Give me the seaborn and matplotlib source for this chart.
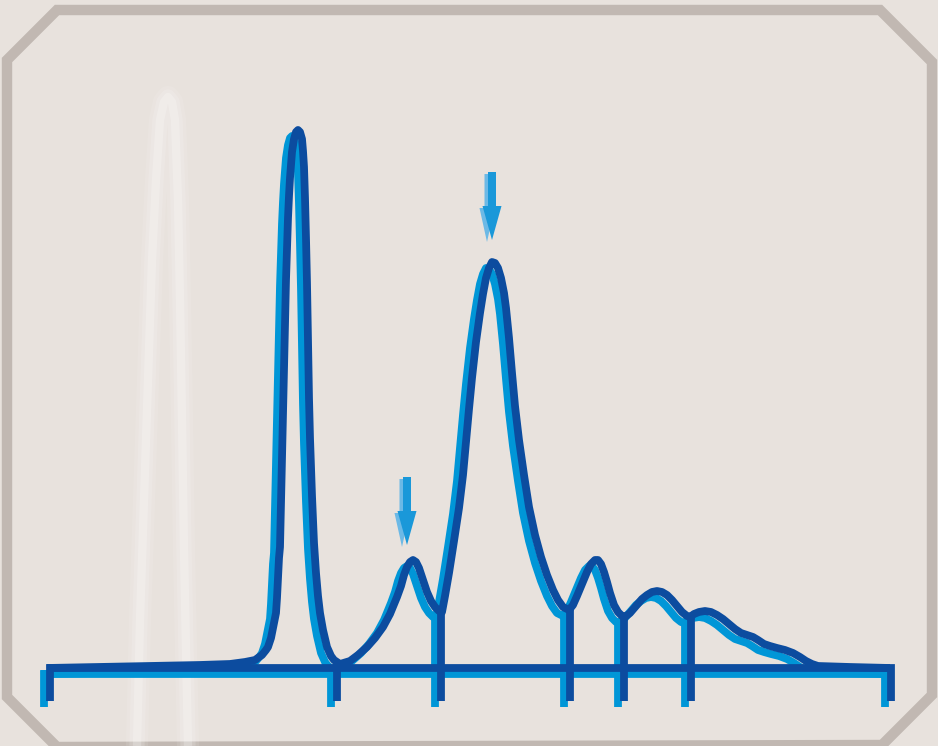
import matplotlib
matplotlib.use("Agg")
import matplotlib.pyplot as plt
from matplotlib.patches import Polygon
from matplotlib.transforms import offset_copy
import seaborn as sns

# Chromatogram trace (time units ~ px, signal above baseline)
time = [47, 100, 150, 200, 230, 245, 255, 262, 266, 268, 271, 273, 275, 276, 277,
        278, 279, 280, 281, 282, 283, 284, 285, 286, 287, 288, 289, 290, 291, 292,
        294, 296, 298, 300, 302, 303, 304, 305, 306, 307, 308, 309, 310, 311, 312,
        313, 314, 316, 318, 320, 323, 327, 331, 334, 340,
        350, 358, 367, 375, 383, 390, 397, 401, 404, 407, 410, 413, 416, 419, 423,
        427, 431, 435, 439, 442,
        445, 449, 454, 459, 463, 466, 469, 472, 476, 480, 483, 486, 489, 492, 495,
        498, 501, 504, 506, 509, 512, 515, 519, 524, 529, 535, 541, 547, 553, 558,
        563, 569,
        573, 577, 582, 587, 591, 595, 598, 601, 604, 607, 610, 614, 618, 622, 625,
        630, 636, 642, 647, 652, 657, 662, 667, 672, 677, 682, 687, 690,
        694, 699, 705, 711, 717, 723, 729, 735, 741, 747, 753, 758, 764, 770, 777,
        785, 793, 800, 806, 812, 818, 850, 890]
signal = [0, 1, 2, 3, 4, 6, 8, 13, 18, 21, 30, 40, 50, 55, 70,
          90, 110, 121, 165, 210, 255, 300, 345, 388, 420, 450, 472, 490, 503, 516,
          529, 536, 538, 536, 529, 517, 501, 470, 430, 385, 330, 270, 230, 200, 172,
          148, 125, 95, 72, 55, 38, 21, 12, 8, 4,
          7, 13, 21, 30, 41, 54, 71, 82, 93, 101, 106, 108, 106, 100, 88,
          76, 67, 61, 57, 56,
          72, 95, 127, 160, 193, 226, 259, 290, 326, 355, 374, 390, 400, 406, 405,
          400, 390, 375, 360, 330, 295, 262, 228, 193, 161, 133, 111, 93, 78, 68,
          61, 58,
          63, 72, 84, 96, 104, 108, 108, 104, 96, 86, 75, 63, 56, 52, 51,
          55, 62, 69, 73, 76, 77, 76, 73, 68, 62, 56, 52, 51,
          54, 56, 57, 56, 53, 49, 44, 39, 35, 33, 31, 28, 24, 22, 20,
          18, 15, 11, 7, 4, 2, 1, 0]

# peak cut positions (drop lines) and the signal where they start
cut_times = [337, 441, 570, 624, 691]
cut_tops = [4, 56, 58, 51, 51]
base_start, base_end = 50, 891

# marked peaks (arrows)
arrow_x = [407, 492]
arrow_tip = [123, 428]

# faint ghost peak in the background
ghost_t = [137, 140, 144, 148, 152, 156, 160, 164, 168, 172, 175, 178, 180, 182, 184, 186, 188]
ghost_s = [-78, 48, 168, 288, 408, 488, 548, 566, 571, 566, 548, 468, 368, 248, 118, 18, -78]

DARK = "#0C4C9F"
LIGHT = "#0096D7"
ARROW = "#1A98D9"
ARROW_SHADOW = "#6CB9E6"
BG = "#E8E2DD"
FRAME = "#C1B8B2"

sns.set_style("white")
fig = plt.figure(figsize=(9.38, 7.46), dpi=100, facecolor=BG)
ax = fig.add_axes([0, 0, 1, 1], facecolor=BG)
ax.set_axis_off()

# frame with cut corners
frame = [(57, 658), (880, 658), (932, 606), (932, -27), (882, -77), (57, -79),
         (7, -29), (7, 608)]
ax.add_patch(Polygon(frame, closed=True, fill=False, edgecolor=FRAME, linewidth=7.5,
                     joinstyle="miter"))

# ghost peak, blurred by stacking
for lw, a in [(16, 0.09), (11, 0.14), (6, 0.22)]:
    ax.plot(ghost_t, ghost_s, color="white", linewidth=lw, alpha=a,
            solid_joinstyle="round", solid_capstyle="butt")

shadow = offset_copy(ax.transData, fig=fig, x=-6, y=-6, units="dots")
lw = 5.6

for color, tr, z in [(LIGHT, shadow, 3), (DARK, ax.transData, 4)]:
    ax.plot([base_start, base_start, base_end, base_end], [-33, 0, 0, -33],
            color=color, linewidth=lw, transform=tr, zorder=z,
            solid_joinstyle="miter", solid_capstyle="butt")
    for t, top in zip(cut_times, cut_tops):
        ax.plot([t, t], [top, -33], color=color, linewidth=lw, transform=tr,
                zorder=z, solid_capstyle="butt")
    sns.lineplot(x=time, y=signal, color=color, linewidth=lw, ax=ax, sort=False,
                 estimator=None, transform=tr, zorder=z + 0.5,
                 solid_joinstyle="round", solid_capstyle="butt")

# arrows above the marked peaks
for x, tip in zip(arrow_x, arrow_tip):
    ax.arrow(x - 5, tip - 2 + 68, 0, -68, width=5, head_width=15, head_length=34,
             length_includes_head=True, color=ARROW_SHADOW, linewidth=0, zorder=5)
    ax.arrow(x, tip + 68, 0, -68, width=8, head_width=19, head_length=34,
             length_includes_head=True, color=ARROW, linewidth=0, zorder=6)

ax.set_xlim(0, 938)
ax.set_ylim(668 - 746, 668)
fig.savefig("out.png", dpi=100, facecolor=BG)
